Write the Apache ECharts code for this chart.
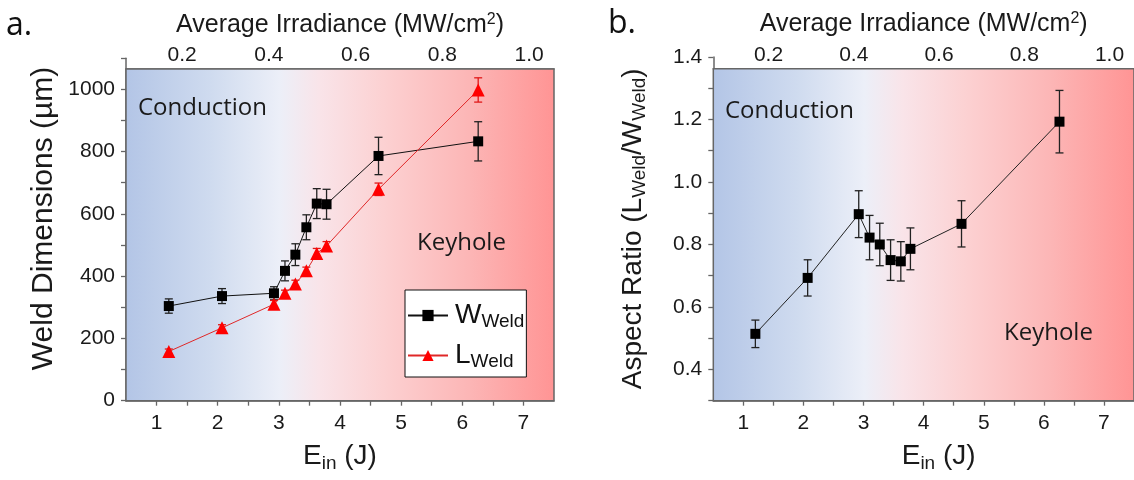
<!DOCTYPE html>
<html>
<head>
<meta charset="utf-8">
<script src="https://cdn.jsdelivr.net/npm/echarts@6/dist/echarts.min.js"></script>
<style>
  html, body { margin: 0; padding: 0; background: #fff; }
  #chart { width: 1134px; height: 480px; }
</style>
</head>
<body>
<div id="chart"></div>
<script>
// Input energy per weld (J)
const energyJ = [1.20, 2.07, 2.92, 3.10, 3.27, 3.45, 3.62, 3.78, 4.63, 6.26];
// Weld width W and length L (µm) with their standard deviations
const widthUm   = [304, 336, 345, 417, 469, 557, 633, 631, 786, 833];
const widthErr  = [23, 24, 21, 32, 35, 40, 48, 48, 60, 63];
const lengthUm  = [158, 234, 310, 345, 375, 417, 473, 497, 679, 998];
const lengthErr = [8, 10, 12, 10, 12, 12, 16, 14, 20, 39];
// Aspect ratio L/W with standard deviations
const aspectRatio = [0.514, 0.693, 0.897, 0.822, 0.800, 0.750, 0.746, 0.786, 0.866, 1.193];
const aspectErr   = [0.044, 0.058, 0.075, 0.071, 0.068, 0.065, 0.063, 0.067, 0.074, 0.100];

// Tick labels and tick marks
const energyLabels     = [1, 2, 3, 4, 5, 6, 7];
const energyTicks      = [1, 1.5, 2, 2.5, 3, 3.5, 4, 4.5, 5, 5.5, 6, 6.5, 7];
const irradianceLabels = [0.2, 0.4, 0.6, 0.8, 1.0];
const irradianceTicks  = [0.1, 0.2, 0.3, 0.4, 0.5, 0.6, 0.7, 0.8, 0.9, 1.0];
const widthLabels      = [0, 200, 400, 600, 800, 1000];
const widthTicks       = [0, 100, 200, 300, 400, 500, 600, 700, 800, 900, 1000, 1100];
const aspectLabels     = [0.4, 0.6, 0.8, 1.0, 1.2, 1.4];
const aspectTicks      = [0.3, 0.4, 0.5, 0.6, 0.7, 0.8, 0.9, 1.0, 1.1, 1.2, 1.3, 1.4];

// Energy range shown and the irradiance produced per joule (MW/cm² per J)
const energyMin = 0.5, energyMax = 7.5;
const irradiancePerJoule = 0.141;
// Upper edge of the shaded frame in each panel
const widthFrameTop = 1065, aspectFrameTop = 1.362;

const FONT = "'Liberation Sans', Arial, sans-serif";
const AXIS_GREY = '#666666';

const regimeGradient = {
  type: 'linear', x: 0, y: 0, x2: 1, y2: 0,
  colorStops: [
    { offset: 0.00, color: '#b3c5e6' },
    { offset: 0.20, color: '#cfdbef' },
    { offset: 0.36, color: '#eceff8' },
    { offset: 0.45, color: '#f9e4e9' },
    { offset: 0.60, color: '#fcd1d2' },
    { offset: 0.80, color: '#fcb6b6' },
    { offset: 1.00, color: '#ff9494' }
  ]
};

function zip(xs, ys) { return xs.map((x, i) => [x, ys[i]]); }

function errorBarSeries(xAxisIndex, yAxisIndex, ys, errs, color) {
  return {
    type: 'custom',
    xAxisIndex, yAxisIndex,
    silent: true,
    z: 2,
    encode: { x: 0, y: [1, 2] },
    data: energyJ.map((x, i) => [x, ys[i] - errs[i], ys[i] + errs[i]]),
    renderItem(params, api) {
      const lo = api.coord([api.value(0), api.value(1)]);
      const hi = api.coord([api.value(0), api.value(2)]);
      const cap = 4;
      const style = { stroke: color, lineWidth: 1.3 };
      return {
        type: 'group',
        children: [
          { type: 'line', shape: { x1: lo[0], y1: lo[1], x2: hi[0], y2: hi[1] }, style },
          { type: 'line', shape: { x1: lo[0] - cap, y1: lo[1], x2: lo[0] + cap, y2: lo[1] }, style },
          { type: 'line', shape: { x1: hi[0] - cap, y1: hi[1], x2: hi[0] + cap, y2: hi[1] }, style }
        ]
      };
    }
  };
}

function frameSeries(xAxisIndex, yAxisIndex, yMin, yTop) {
  return {
    type: 'line',
    xAxisIndex, yAxisIndex,
    data: [],
    silent: true,
    markArea: {
      silent: true,
      label: { show: false },
      itemStyle: { color: regimeGradient, borderColor: AXIS_GREY, borderWidth: 1.5 },
      emphasis: { disabled: true },
      data: [[{ coord: [energyMin, yMin] }, { coord: [energyMax, yTop] }]]
    }
  };
}

const tickLabelStyle = { color: '#1a1a1a', fontFamily: FONT, fontSize: 21 };
const axisLineStyle = { lineStyle: { color: AXIS_GREY, width: 1.5 } };

function energyAxis(gridIndex, namePadding) {
  return {
    type: 'value', gridIndex, position: 'bottom',
    min: energyMin, max: energyMax,
    name: '{m|E}{s|in}{m| (J)}',
    nameLocation: 'middle', nameGap: 40,
    nameTextStyle: {
      padding: namePadding,
      rich: {
        m: { fontFamily: FONT, fontSize: 28, lineHeight: 32, color: '#1a1a1a' },
        s: { fontFamily: FONT, fontSize: 19, lineHeight: 20, padding: [14, 0, 0, 0], color: '#1a1a1a' }
      }
    },
    axisLine: axisLineStyle,
    axisTick: { show: true, inside: false, length: 5, customValues: energyTicks, lineStyle: { color: AXIS_GREY, width: 1.3 } },
    axisLabel: Object.assign({ margin: 12, customValues: energyLabels }, tickLabelStyle),
    splitLine: { show: false }
  };
}

function irradianceAxis(gridIndex, offset) {
  return {
    type: 'value', gridIndex, position: 'top', offset,
    min: energyMin * irradiancePerJoule, max: energyMax * irradiancePerJoule,
    name: 'Average Irradiance (MW/cm{sup|2})',
    nameLocation: 'middle', nameGap: 31,
    nameTextStyle: {
      fontFamily: FONT, fontSize: 25, color: '#1a1a1a',
      rich: { sup: { fontFamily: FONT, fontSize: 16, padding: [0, 0, 11, 0], color: '#1a1a1a' } }
    },
    axisLine: axisLineStyle,
    axisTick: { show: true, inside: true, length: 5, customValues: irradianceTicks, lineStyle: { color: AXIS_GREY, width: 1.3 } },
    axisLabel: Object.assign({
      margin: 3, customValues: irradianceLabels,
      formatter: v => v.toFixed(1)
    }, tickLabelStyle),
    splitLine: { show: false }
  };
}

const option = {
  animation: false,
  backgroundColor: '#ffffff',
  grid: [
    { left: 126, top: 58.2, width: 428, height: 342.5 },
    { left: 713.3, top: 57, width: 429.2, height: 343.7 }
  ],
  xAxis: [
    energyAxis(0, [0, 0, 0, 0]),
    irradianceAxis(0, -11),
    energyAxis(1, [0, 0, 0, 30]),
    irradianceAxis(1, -12)
  ],
  yAxis: [
    {
      type: 'value', gridIndex: 0, min: 0, max: 1100,
      name: 'Weld Dimensions (µm)',
      nameLocation: 'middle', nameGap: 65, nameRotate: 90,
      nameTextStyle: { fontFamily: FONT, fontSize: 30, lineHeight: 34, color: '#1a1a1a', padding: [0, 0, 0, 22] },
      axisLine: axisLineStyle,
      axisTick: { show: true, inside: false, length: 5, customValues: widthTicks, lineStyle: { color: AXIS_GREY, width: 1.3 } },
      axisLabel: Object.assign({ margin: 11, customValues: widthLabels, formatter: v => String(v) }, tickLabelStyle),
      splitLine: { show: false }
    },
    {
      type: 'value', gridIndex: 1, min: 0.3, max: 1.4,
      name: '{m|Aspect Ratio (L}{s|Weld}{m|/W}{s|Weld}{m|)}',
      nameLocation: 'middle', nameGap: 64, nameRotate: 90,
      nameTextStyle: {
        rich: {
          m: { fontFamily: FONT, fontSize: 28, lineHeight: 32, color: '#1a1a1a' },
          s: { fontFamily: FONT, fontSize: 19, lineHeight: 20, padding: [12, 0, 0, 0], color: '#1a1a1a' }
        }
      },
      axisLine: axisLineStyle,
      axisTick: { show: true, inside: false, length: 5, customValues: aspectTicks, lineStyle: { color: AXIS_GREY, width: 1.3 } },
      axisLabel: Object.assign({ margin: 11, customValues: aspectLabels, formatter: v => v.toFixed(1) }, tickLabelStyle),
      splitLine: { show: false }
    }
  ],
  legend: {
    data: ['W_Weld', 'L_Weld'],
    orient: 'vertical',
    left: 405, top: 290,
    padding: [10, 2, 6, 2],
    itemGap: 9,
    itemWidth: 40, itemHeight: 14,
    backgroundColor: '#ffffff',
    borderColor: '#111111', borderWidth: 1,
    selectedMode: false,
    formatter: name => name === 'W_Weld' ? '{m|W}{s|Weld}' : '{m|L}{s|Weld}',
    textStyle: {
      rich: {
        m: { fontFamily: FONT, fontSize: 28, lineHeight: 30, color: '#111', padding: [0, 0, 0, 2] },
        s: { fontFamily: FONT, fontSize: 19, lineHeight: 18, padding: [12, 0, 0, 0], color: '#111' }
      }
    }
  },
  graphic: [
    { type: 'text', x: 6, y: 26, style: { text: 'a.', font: "32px 'Open Sans', sans-serif", fill: '#111', verticalAlign: 'middle' } },
    { type: 'text', x: 608, y: 24, style: { text: 'b.', font: "32px 'Open Sans', sans-serif", fill: '#111', verticalAlign: 'middle' } },
    { type: 'text', x: 138, y: 108, z: 10, style: { text: 'Conduction', font: "24px 'Open Sans', sans-serif", fill: '#1a1a1a', verticalAlign: 'middle' } },
    { type: 'text', x: 417, y: 243, z: 10, style: { text: 'Keyhole', font: "24px 'Open Sans', sans-serif", fill: '#1a1a1a', verticalAlign: 'middle' } },
    { type: 'text', x: 725, y: 111, z: 10, style: { text: 'Conduction', font: "24px 'Open Sans', sans-serif", fill: '#1a1a1a', verticalAlign: 'middle' } },
    { type: 'text', x: 1004, y: 333, z: 10, style: { text: 'Keyhole', font: "24px 'Open Sans', sans-serif", fill: '#1a1a1a', verticalAlign: 'middle' } }
  ],
  series: [
    frameSeries(0, 0, 0, widthFrameTop),
    errorBarSeries(0, 0, widthUm, widthErr, '#222222'),
    errorBarSeries(0, 0, lengthUm, lengthErr, '#e01818'),
    {
      name: 'W_Weld', type: 'line', xAxisIndex: 0, yAxisIndex: 0, z: 3,
      data: zip(energyJ, widthUm),
      symbol: 'rect', symbolSize: 10,
      itemStyle: { color: '#000000' },
      lineStyle: { color: '#111111', width: 1 }
    },
    {
      name: 'L_Weld', type: 'line', xAxisIndex: 0, yAxisIndex: 0, z: 3,
      data: zip(energyJ, lengthUm),
      symbol: 'triangle', symbolSize: 13,
      itemStyle: { color: '#ff0000' },
      lineStyle: { color: '#e02828', width: 1 }
    },
    frameSeries(2, 1, 0.3, aspectFrameTop),
    errorBarSeries(2, 1, aspectRatio, aspectErr, '#222222'),
    {
      name: 'Aspect Ratio', type: 'line', xAxisIndex: 2, yAxisIndex: 1, z: 3,
      data: zip(energyJ, aspectRatio),
      symbol: 'rect', symbolSize: 10,
      itemStyle: { color: '#000000' },
      lineStyle: { color: '#222222', width: 1 }
    }
  ]
};

const chart = echarts.init(document.getElementById('chart'), null, { renderer: 'canvas' });
chart.setOption(option);
</script>
</body>
</html>
